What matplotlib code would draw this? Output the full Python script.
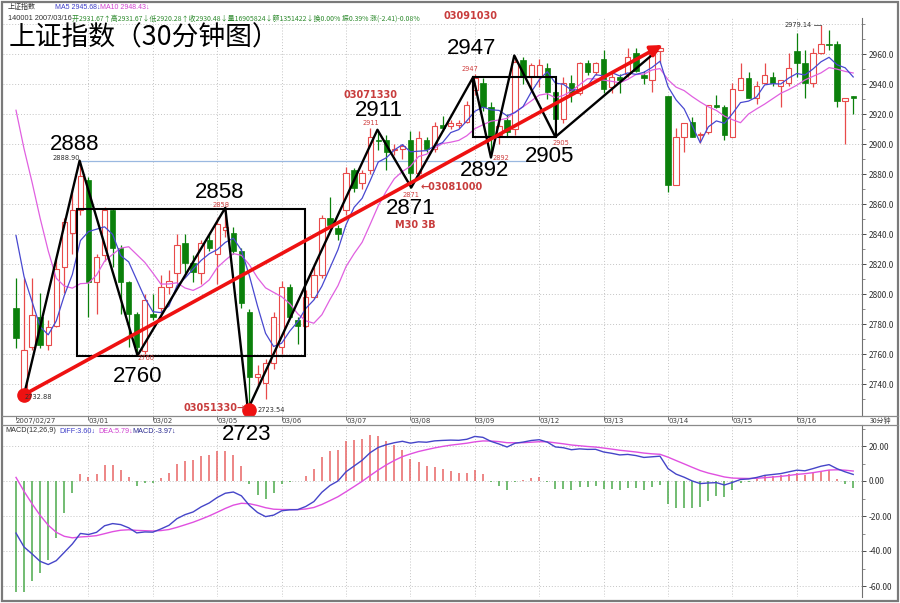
import matplotlib
matplotlib.use('Agg')
import matplotlib.pyplot as plt
import matplotlib.transforms as mtrans
from matplotlib.patches import Rectangle, FancyArrowPatch
import numpy as np
import pandas as pd

plt.rcParams['font.family'] = ['Noto Sans CJK SC', 'DejaVu Sans']

# ---------------- data ----------------
opens = [2791, 2734, 2765, 2785, 2766, 2779, 2818, 2841, 2856,
         2876, 2808, 2826, 2856, 2831, 2808, 2787, 2762,
         2787, 2791, 2805, 2814, 2834, 2821, 2814, 2836,
         2827, 2843, 2841, 2829, 2788, 2745, 2741, 2754,
         2765, 2805, 2783, 2779, 2798, 2813, 2851, 2844,
         2856, 2883, 2874, 2883, 2903, 2903, 2896, 2897,
         2903, 2881, 2903, 2897, 2913, 2912, 2913, 2915,
         2936, 2941, 2925, 2906, 2916, 2910, 2956, 2945,
         2945, 2951, 2935, 2917, 2941, 2934, 2954, 2948,
         2957, 2938, 2945, 2947, 2961, 2946, 2943, 2962,
         2932, 2873, 2905, 2915, 2906, 2908, 2926, 2925,
         2905, 2936, 2944, 2931, 2941, 2945, 2939, 2941,
         2962, 2954, 2941, 2961, 2967, 2967, 2929, 2931.67]
highs = [2811, 2811, 2811, 2801, 2783, 2823, 2851, 2871, 2888.9,
         2878, 2827, 2858, 2857, 2833, 2809, 2788, 2800,
         2800, 2813, 2816, 2840, 2840, 2826, 2836, 2840,
         2851, 2858, 2845, 2831, 2790, 2753, 2757, 2788,
         2809, 2807, 2785, 2803, 2818, 2853, 2865, 2846,
         2885, 2884, 2883, 2911, 2909, 2906, 2900, 2900,
         2909, 2909, 2905, 2915, 2919, 2916, 2916, 2929,
         2947, 2944, 2928, 2914, 2920, 2959, 2958, 2954,
         2957, 2954, 2936, 2945, 2946, 2955, 2956, 2955,
         2963, 2949, 2947, 2964, 2964, 2949, 2964, 2966,
         2932, 2911, 2914, 2918, 2908, 2926, 2933, 2926,
         2941, 2954, 2948, 2942, 2954, 2948, 2943, 2961,
         2974, 2963, 2964, 2979.14, 2976, 2969, 2931, 2931.67]
lows = [2764, 2733, 2763, 2764, 2763, 2778, 2801, 2827, 2853,
        2785, 2787, 2822, 2818, 2787, 2765, 2760, 2760,
        2783, 2783, 2800, 2807, 2814, 2808, 2807, 2829,
        2807, 2838, 2827, 2791, 2723.5, 2740, 2730, 2750,
        2760, 2784, 2767, 2778, 2797, 2811, 2845, 2836,
        2853, 2868, 2870, 2880, 2896, 2883, 2893, 2890,
        2871, 2879, 2895, 2895, 2909, 2910, 2911, 2914,
        2933, 2922, 2892, 2900, 2905, 2906, 2940, 2935,
        2938, 2930, 2905, 2914, 2928, 2933, 2946, 2946,
        2934, 2934, 2934, 2945, 2948, 2940, 2935, 2954,
        2868, 2873, 2895, 2905, 2901, 2907, 2924, 2903,
        2905, 2936, 2931, 2927, 2941, 2939, 2925, 2939,
        2945, 2931, 2938, 2960, 2963, 2925, 2900, 2920.28]
closes = [2771, 2763, 2786, 2766, 2778, 2817, 2848, 2856, 2879,
          2808, 2825, 2856, 2831, 2808, 2787, 2765, 2796,
          2785, 2805, 2809, 2833, 2821, 2815, 2834, 2831,
          2847, 2845, 2829, 2794, 2745, 2747, 2754, 2785,
          2805, 2785, 2779, 2798, 2813, 2851, 2846, 2840,
          2881, 2871, 2881, 2905, 2902, 2895, 2897, 2899,
          2881, 2904, 2897, 2912, 2911, 2914, 2914, 2926,
          2944, 2925, 2905, 2912, 2908, 2955, 2945, 2953,
          2953, 2935, 2917, 2941, 2934, 2954, 2948, 2954,
          2937, 2945, 2943, 2958, 2949, 2944, 2961, 2964,
          2873, 2905, 2914, 2905, 2907, 2926, 2925, 2906,
          2937, 2944, 2931, 2939, 2946, 2941, 2943, 2951,
          2954, 2941, 2961, 2967, 2966, 2929, 2931, 2930.48]
prior_closes = [3020, 3010, 3005, 2995, 3000, 2900, 2870, 2849, 2805]
macd_init_ema12 = 2912.0
macd_init_ema26 = 2932.0
macd_init_dea = 10.0

day_labels = ['2007/02/27', '03/01', '03/02', '03/05', '03/06', '03/07', '03/08',
              '03/09', '03/12', '03/13', '03/14', '03/15', '03/16']
day_start = [0, 9, 17, 25, 33, 41, 49, 57, 65, 73, 81, 89, 97]
price_ticks = [2740, 2760, 2780, 2800, 2820, 2840, 2860, 2880, 2900, 2920, 2940, 2960]
macd_ticks = [20, 0, -20, -40, -60]

zigzag_bar = [1, 7.9, 15.1, 26, 28.8, 44.9, 49.1, 56.8, 59, 61.9, 67, 79.6]
zigzag_price = [2732.88, 2888.9, 2759, 2857.5, 2723, 2909.5, 2871, 2944.7, 2891, 2959, 2904.7, 2962]
box1 = (7.6, 35.9, 2758.7, 2856.7)
box2 = (56.8, 67.1, 2904.7, 2944.7)
arrow_bar = [1, 80.3]
arrow_price = [2732.88, 2966]
dot_bar = [1, 28.9]
dot_price = [2732.88, 2723]
ref_level = 2888.9

# ---------------- figure ----------------
fig = plt.figure(figsize=(9, 6.03), dpi=100)
PX = mtrans.Affine2D().scale(1 / 900, -1 / 603).translate(0, 1) + fig.transFigure


def xb(px):
    return (px - 16) / 8.05


def yp(py):
    return 2740 + (384 - py) / 1.5


def ym(py):
    return (481 - py) / 1.75


GRID = dict(color='#c4c4c4', lw=0.7, ls=(0, (1, 2)), zorder=0)
RED = '#e84a4a'
GREEN = '#0b800b'
NUMF = ['Liberation Sans', 'DejaVu Sans']

# ---- main price panel ----
ax = fig.add_axes([3 / 900, 1 - 416 / 603, 859 / 900, 398 / 603])
ax.set_xlim(xb(3), xb(862))
ax.set_ylim(yp(416), yp(18))
for v in price_ticks + [2980]:
    ax.axhline(v, **GRID)
for d in day_start[1:]:
    ax.axvline(d, **GRID)

idx = np.arange(len(closes))
o = np.array(opens, float)
c = np.array(closes, float)
h = np.array(highs, float)
l = np.array(lows, float)
up = c >= o
ax.vlines(idx, l, h, colors=np.where(up, RED, GREEN), lw=0.9, zorder=2)
bb = np.minimum(o, c)
bh = np.maximum(np.abs(c - o), 0.6)
ax.bar(idx[up], bh[up], bottom=bb[up], width=0.66, facecolor='white',
       edgecolor=RED, lw=0.8, zorder=3)
ax.bar(idx[~up], bh[~up], bottom=bb[~up], width=0.66, facecolor=GREEN,
       edgecolor=GREEN, lw=0.5, zorder=3)

full = pd.Series(prior_closes + closes, dtype=float)
ma5 = full.rolling(5).mean().to_numpy()[len(prior_closes):]
ma10 = full.rolling(10).mean().to_numpy()[len(prior_closes):]
ax.plot(idx, ma10, color='#e060e0', lw=0.9, zorder=4)
ax.plot(idx, ma5, color='#4848d0', lw=0.9, zorder=4)

ax.hlines(ref_level, 8, xb(527), color='#9ab8e0', lw=0.9, zorder=1)

# zigzag, boxes, arrow
ax.plot(zigzag_bar, zigzag_price, color='black', lw=1.7, zorder=6)
for (x0, x1, p0, p1) in (box1, box2):
    ax.add_patch(Rectangle((x0, p0), x1 - x0, p1 - p0, fill=False,
                           edgecolor='black', lw=1.5, zorder=6))
ax.add_patch(FancyArrowPatch((arrow_bar[0], arrow_price[0]), (arrow_bar[1], arrow_price[1]),
                             arrowstyle='-|>', mutation_scale=17, lw=2.6,
                             color='#ee1111', shrinkA=0, shrinkB=0, zorder=7))
ax.plot(dot_bar, dot_price, 'o', ms=9.5, color='#ee1111', zorder=8)

ax.yaxis.tick_right()
ax.set_yticks(price_ticks)
ax.set_yticklabels(['%.1f' % v for v in price_ticks])
ax.set_yticks(np.arange(2730, 2981, 10), minor=True)
ax.tick_params(axis='y', which='major', length=3, pad=2, labelsize=6,
               colors='#303030', width=0.6)
ax.tick_params(axis='y', which='minor', length=2, width=0.5, colors='#606060')
ax.set_xticks(day_start)
ax.tick_params(axis='x', length=3, width=0.6, colors='#606060', labelbottom=False)
for s in ('top', 'left', 'bottom'):
    ax.spines[s].set_visible(False)
ax.spines['right'].set_color('#707070')

# ---- MACD panel ----
ax2 = fig.add_axes([3 / 900, 1 - 597 / 603, 859 / 900, 172 / 603])
ax2.set_xlim(xb(3), xb(862))
ax2.set_ylim(ym(597), ym(425))
for v in macd_ticks:
    ax2.axhline(v, **GRID)
for d in day_start[1:]:
    ax2.axvline(d, **GRID)

e12, e26, dea = macd_init_ema12, macd_init_ema26, macd_init_dea
diff_v, dea_v = [], []
for cl in closes:
    e12 += (cl - e12) * 2 / 13
    e26 += (cl - e26) * 2 / 27
    d = e12 - e26
    dea += (d - dea) * 2 / 10
    diff_v.append(d)
    dea_v.append(dea)
diff_v = np.array(diff_v)
dea_v = np.array(dea_v)
hist = 2 * (diff_v - dea_v)
ax2.vlines(idx, 0, hist, colors=np.where(hist >= 0, '#e86464', '#4caa4c'), lw=1.1, zorder=2)
ax2.plot(idx, dea_v, color='#e050e0', lw=1.0, zorder=3)
ax2.plot(idx, diff_v, color='#4545c8', lw=1.0, zorder=4)

ax2.yaxis.tick_right()
ax2.set_yticks(macd_ticks)
ax2.set_yticklabels(['%.2f' % v for v in macd_ticks])
ax2.set_yticks(np.arange(-60, 31, 10), minor=True)
ax2.tick_params(axis='y', which='major', length=3, pad=2, labelsize=6,
                colors='#303030', width=0.6)
ax2.tick_params(axis='y', which='minor', length=2, width=0.5, colors='#606060')
ax2.set_xticks([])
for s in ('top', 'left', 'bottom'):
    ax2.spines[s].set_visible(False)
ax2.spines['right'].set_color('#707070')

# ---- frame and separators ----
fig.add_artist(Rectangle((2, 2), 896, 599, transform=PX, fill=False,
                         edgecolor='#7a7a7a', lw=1.6))
for yy in (416, 425):
    fig.add_artist(plt.Line2D([2, 898], [yy, yy], transform=PX, color='#8a8a8a', lw=0.9))

# date labels
for lab, d in zip(day_labels, day_start):
    xpx = 16 + 8.05 * d
    fig.text(xpx, 420.5, lab, transform=PX, fontsize=5, color='#404040',
             ha='left', va='center', family=['DejaVu Sans'])
fig.text(870, 421, '30分钟', transform=PX, fontsize=5, color='#404040', ha='left', va='center')

# header info
fig.text(8, 7, '上证指数', transform=PX, fontsize=5, color='#303030', ha='left', va='center')
fig.text(55, 7, 'MA5 2945.68↓', transform=PX, fontsize=5, color='#3c3cc8', ha='left', va='center',
         family=NUMF)
fig.text(100, 7, 'MA10 2948.43↓', transform=PX, fontsize=5, color='#d040d0', ha='left', va='center',
         family=NUMF)
fig.text(8, 19, '140001 2007/03/16', transform=PX, fontsize=5.3, color='#303030', ha='left', va='center',
         family=NUMF)
fig.text(72, 19, '开2931.67↑高2931.67↓低2920.28↑收2930.48↓量16905824↓额1351422↓换0.00% 振0.39% 涨(-2.41)-0.08%',
         transform=PX, fontsize=5, color='#2e8b2e', ha='left', va='center')

fig.text(9, 38, '上证指数（30分钟图）', transform=PX, fontsize=19.3, color='black',
         ha='left', va='center')

# MACD header
fig.text(5, 431, 'MACD(12,26,9)', transform=PX, fontsize=5.2, color='#303030', ha='left', va='center',
         family=NUMF)
fig.text(59, 431, 'DIFF:3.60↓', transform=PX, fontsize=5.2, color='#3c3cc8', ha='left', va='center',
         family=NUMF)
fig.text(98, 431, 'DEA:5.79↓', transform=PX, fontsize=5.2, color='#d040d0', ha='left', va='center',
         family=NUMF)
fig.text(132, 431, 'MACD:-3.97↓', transform=PX, fontsize=5.2, color='#2a2a90', ha='left', va='center',
         family=NUMF)

# big black level numbers
BIG = dict(transform=PX, fontsize=16, color='black', ha='center', va='center',
           family=NUMF, zorder=10)
for txt, xx, yy in [('2888', 75, 145), ('2858', 220, 192), ('2760', 138, 376),
                    ('2723', 247, 434), ('2911', 379, 111), ('2871', 411, 209),
                    ('2892', 485, 171), ('2905', 550, 156), ('2947', 472, 48)]:
    fig.text(xx, yy, txt, **BIG)

MID = dict(transform=PX, fontsize=7, color='#c83c3c', va='center', fontweight='bold',
           family=['DejaVu Sans'], zorder=10)
fig.text(370, 95, '03071330', ha='center', **MID)
fig.text(471, 16, '03091030', ha='center', **MID)
fig.text(246, 408, '03051330→', ha='right', **MID)
fig.text(421, 187, '←03081000', ha='left', **MID)
fig.text(415, 225, 'M30 3B', ha='center', **MID)

SM = dict(transform=PX, fontsize=4.8, color='#d04040', ha='center', va='center',
          family=['DejaVu Sans'], zorder=10)
for txt, xx, yy in [('2858', 221, 205), ('2760', 146, 358), ('2911', 371, 123),
                    ('2871', 411, 195), ('2892', 501, 158), ('2905', 561, 143),
                    ('2947', 470, 69)]:
    fig.text(xx, yy, txt, **SM)

SMK = dict(transform=PX, fontsize=4.8, color='#303030', va='center', family=['DejaVu Sans'], zorder=9)
fig.text(53, 158, '2888.90', ha='left', **SMK)
fig.text(25, 397, '2732.88', ha='left', **SMK)
fig.text(258, 410, '2723.54', ha='left', **SMK)
fig.text(812, 25, '2979.14', ha='right', **SMK)
fig.add_artist(plt.Line2D([814, 821], [25, 25], transform=PX, color='#505050', lw=0.6))

fig.savefig('out.png', dpi=100)
